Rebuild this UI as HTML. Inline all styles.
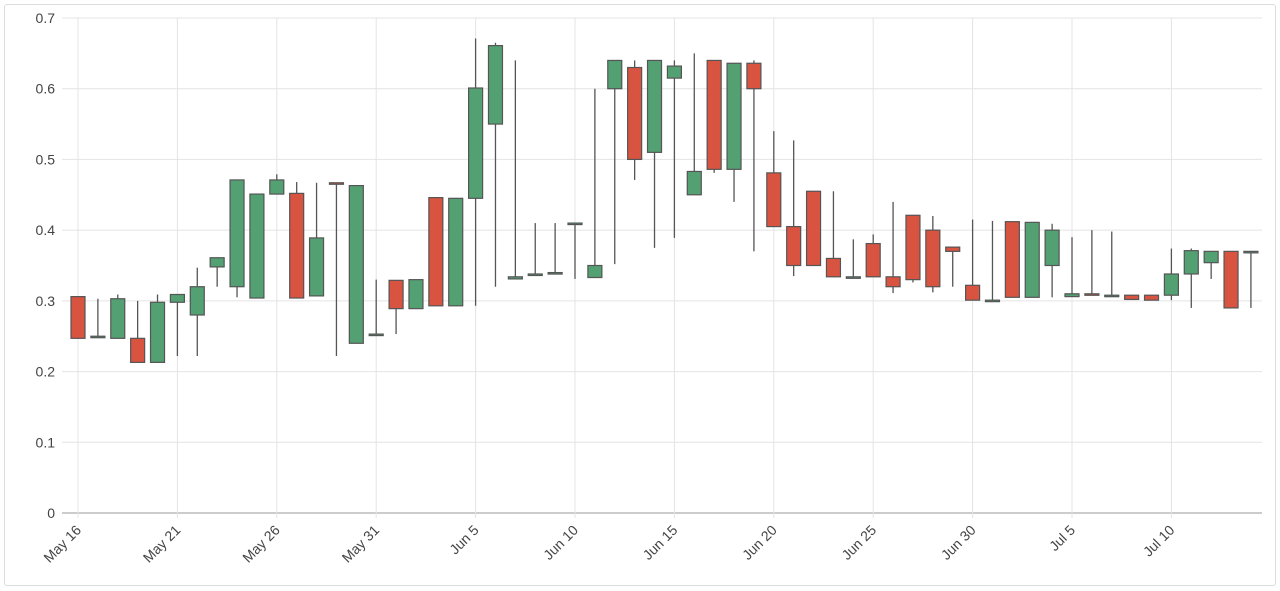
<!DOCTYPE html>
<html><head><meta charset="utf-8"><style>
body{margin:0;background:#fff;font-family:"Liberation Sans",sans-serif}
#wrap{position:absolute;left:4px;top:4px;width:1270px;height:580px;border:1px solid #ddd;border-radius:3px}
</style></head><body>
<div id="wrap"></div>
<svg id="c" width="1280" height="591" style="position:absolute;left:0;top:0"></svg>
<script>
const startDate = new Date(2024,4,16);
const opens  = [.306,.25,.247,.247,.213,.298,.280,.348,.320,.304,.451,.452,.307,.467,.240,.253,.329,.289,.446,.293,.445,.550,.331,.336,.338,.410,.333,.600,.630,.510,.615,.450,.640,.486,.636,.481,.405,.455,.360,.334,.381,.334,.421,.400,.376,.322,.301,.412,.305,.350,.306,.310,.308,.308,.308,.308,.338,.354,.370,.370];
const closes = [.247,.25,.303,.213,.298,.309,.320,.361,.471,.451,.471,.304,.389,.465,.463,.253,.289,.330,.293,.445,.601,.661,.334,.338,.340,.410,.350,.640,.500,.640,.632,.483,.486,.636,.600,.405,.350,.350,.334,.334,.334,.320,.330,.320,.370,.301,.301,.305,.411,.400,.310,.308,.308,.302,.301,.338,.371,.370,.290,.370];
const highs  = [.306,.303,.309,.300,.309,.309,.347,.361,.471,.451,.479,.468,.467,.467,.463,.330,.329,.330,.446,.445,.671,.665,.640,.410,.410,.410,.600,.640,.640,.640,.640,.650,.640,.636,.640,.540,.527,.455,.455,.387,.394,.440,.421,.420,.376,.415,.413,.412,.411,.409,.390,.400,.398,.308,.308,.374,.374,.370,.370,.370];
const lows   = [.247,.25,.247,.213,.213,.222,.222,.320,.305,.304,.451,.304,.307,.222,.240,.253,.253,.289,.293,.293,.293,.320,.331,.336,.338,.331,.333,.352,.471,.375,.389,.450,.481,.440,.370,.405,.335,.350,.334,.334,.334,.311,.326,.312,.320,.301,.301,.305,.305,.305,.306,.308,.308,.302,.301,.301,.290,.331,.290,.290];
const yTicks = [0,0.1,0.2,0.3,0.4,0.5,0.6,0.7];
const xTickLabels = ["May 16","May 21","May 26","May 31","Jun 5","Jun 10","Jun 15","Jun 20","Jun 25","Jun 30","Jul 5","Jul 10"];
const NS="http://www.w3.org/2000/svg", svg=document.getElementById('c');
const x0=62,x1=1262,y0=513,yTop=18;
const X=i=>78+i*19.88;
const Y=v=>y0-(v/0.7)*(y0-yTop);
function mk(t,a,p){const e=document.createElementNS(NS,t);for(const k in a)e.setAttribute(k,a[k]);(p||svg).appendChild(e);return e;}
yTicks.forEach(v=>{
  const g=mk('line',{x1:x0,x2:x1,y1:Y(v),y2:Y(v),stroke:v===0?'#999':'#e4e4e4','stroke-width':1});
  
  
  const t=mk('text',{x:55,y:Y(v)+5,'text-anchor':'end','font-size':14,fill:'#444'});
  t.textContent=v===0?'0':v.toFixed(1);
  
  
});
xTickLabels.forEach((s,k)=>{
  const x=X(k*5);
  const g=mk('line',{x1:x,x2:x,y1:yTop,y2:y0+5,stroke:'#e4e4e4'});
  
  
  const t=mk('text',{x:x+4,y:y0+18,'text-anchor':'end','font-size':14,fill:'#444',transform:`rotate(-45 ${x+4} ${y0+18})`});
  t.textContent=s;
  
  
});
opens.forEach((o,i)=>{
  const c=closes[i],x=X(i),up=c>=o;
  const w=mk('line',{x1:x,x2:x,y1:Y(highs[i]),y2:Y(lows[i]),stroke:'#555','stroke-width':1.3});
  
  
  const top=Y(Math.max(o,c)),h=Math.max(1.5,Y(Math.min(o,c))-top);
  const r=mk('rect',{x:x-7,y:top,width:14,height:h,fill:up?'#53a073':'#d95440',stroke:'#555','stroke-width':1.2});
  
  
});
</script>
</body></html>
